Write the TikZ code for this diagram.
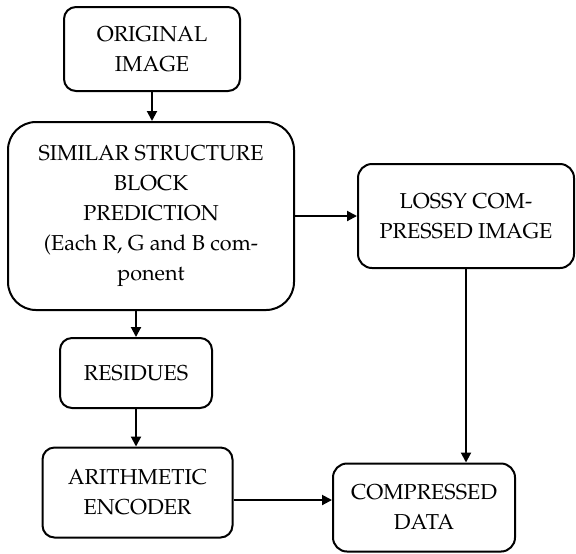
\documentclass[tikz,border=0pt]{standalone}
\usepackage[T1]{fontenc}
\usepackage{mathpazo}
\usetikzlibrary{arrows.meta}

\begin{document}
\begin{tikzpicture}[x=0.5pt, y=-0.5pt, line width=1pt,
        blk/.style={draw, rectangle, rounded corners=6pt, align=center, inner sep=0pt,
            font=\fontsize{10.8}{15}\selectfont},
        flow/.style={-{Triangle[length=5pt, width=5pt]}}]
        \useasboundingbox (0, 0) rectangle (576, 553);

        \node[blk, minimum width=88pt, minimum height=42pt] (orig) at (152, 49) {ORIGINAL\\IMAGE};
        \node[blk, rounded corners=14pt, minimum width=143pt, minimum height=94pt] (ssbp) at (151, 216)
            {SIMILAR STRUCTURE\\BLOCK\\PREDICTION\\(Each R, G and B com-\\ponent};
        \node[blk, rounded corners=7pt, minimum width=108pt, minimum height=52pt] (lossy) at (466, 216)
            {LOSSY COM-\\PRESSED IMAGE};
        \node[blk, minimum width=76pt, minimum height=35pt] (resid) at (136, 373) {RESIDUES};
        \node[blk, minimum width=95pt, minimum height=45pt] (arith) at (137.5, 492.5) {ARITHMETIC\\ENCODER};
        \node[blk, rounded corners=7pt, minimum width=91pt, minimum height=44pt] (comp) at (424, 507.5)
            {COMPRESSED\\DATA};

        \draw[flow] (orig.south) -- (orig.south |- ssbp.north);
        \draw[flow] (ssbp.east) -- (lossy.west);
        \draw[flow] (resid.north |- ssbp.south) -- (resid.north);
        \draw[flow] (resid.south) -- (resid.south |- arith.north);
        \draw[flow] (lossy.south) -- (lossy.south |- comp.north);
        \draw[flow] ([yshift=-3.75pt]arith.east) -- ([yshift=-3.75pt]arith.east -| comp.west);
    \end{tikzpicture}
\end{document}
